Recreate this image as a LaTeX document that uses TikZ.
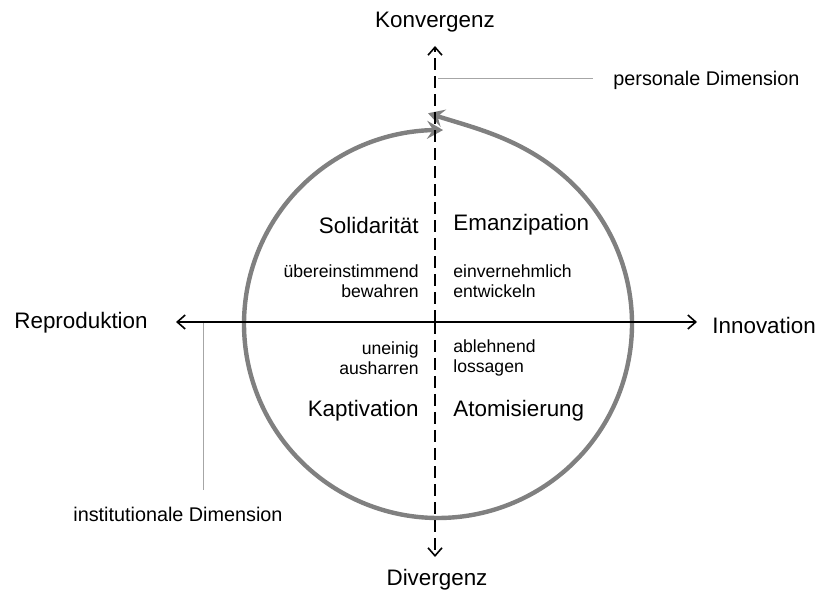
\documentclass[tikz,border=0pt]{standalone}
\usepackage{fontspec}
\setmainfont{Liberation Sans}
\usetikzlibrary{arrows.meta}

\begin{document}
\begin{tikzpicture}[x=0.5pt,y=-0.5pt,
    axis/.style={black,line width=0.8pt,-{Straight Barb[length=4pt,width=7pt,line width=0.8pt]}},
    pole/.style={font=\fontsize{11.2}{13}\selectfont},
    field/.style={font=\fontsize{11.2}{13}\selectfont},
    mode/.style={font=\fontsize{8.8}{10}\selectfont,inner sep=0pt},
    note/.style={font=\fontsize{9.9}{12}\selectfont,inner sep=0pt},
    hint/.style={gray!70,line width=0.5pt}]
  \useasboundingbox (0,0) rectangle (817,597);

  \coordinate (centre) at (435,322);
  \coordinate (north) at (435,46);
  \coordinate (south) at (435,557);
  \coordinate (west) at (176,322);
  \coordinate (east) at (697,322);

  \node[pole] (konv) at (435,22) {Konvergenz};
  \node[pole] (div) at (437,580) {Divergenz};
  \node[pole,anchor=west,inner sep=0pt] (repro) at (14,323) {Reproduktion};
  \node[pole,anchor=west,inner sep=0pt] (inno) at (712,325) {Innovation};

  \draw[black!50,line width=2.2pt,
        {Stealth[length=8pt,width=9pt,inset=3pt]}-{Stealth[length=8pt,width=9pt,inset=3pt]}]
    plot[domain=92.7:-271.5,samples=200,smooth]
      ({438+(194+17*exp(-(92.7-\x)/12))*cos(\x)},{324-(194+17*exp(-(92.7-\x)/12))*sin(\x)});

  \draw[axis,dashed,dash pattern=on 6pt off 3pt] (centre) -- (north);
  \draw[axis,dashed,dash pattern=on 6pt off 3pt] (centre) -- (south);
  \draw[axis] (centre) -- (west);
  \draw[axis] (centre) -- (east);

  \node[field,anchor=east,inner sep=0pt] (soli) at (419,225) {Solidarität};
  \node[field,anchor=west,inner sep=0pt] (eman) at (453,225) {Emanzipation};
  \node[field,anchor=east,inner sep=0pt] (kapt) at (419,411) {Kaptivation};
  \node[field,anchor=west,inner sep=0pt] (atom) at (453,411) {Atomisierung};

  \node[mode,anchor=east,align=right] (bewahren) at (419,281) {übereinstimmend\\bewahren};
  \node[mode,anchor=west,align=left] (entwickeln) at (453,281) {einvernehmlich\\entwickeln};
  \node[mode,anchor=east,align=right] (ausharren) at (419,358) {uneinig\\ausharren};
  \node[mode,anchor=west,align=left] (lossagen) at (453,358) {ablehnend\\lossagen};

  \node[note,anchor=west] (person) at (613,80) {personale Dimension};
  \node[note,anchor=west] (instit) at (73,514) {institutionale Dimension};
  \coordinate (pfoot) at (438,79);
  \coordinate (ifoot) at (203,323);
  \draw[hint] (pfoot) -- ([xshift=-10]person.west |- pfoot);
  \draw[hint] (ifoot) -- (ifoot |- 0,490);
\end{tikzpicture}
\end{document}
